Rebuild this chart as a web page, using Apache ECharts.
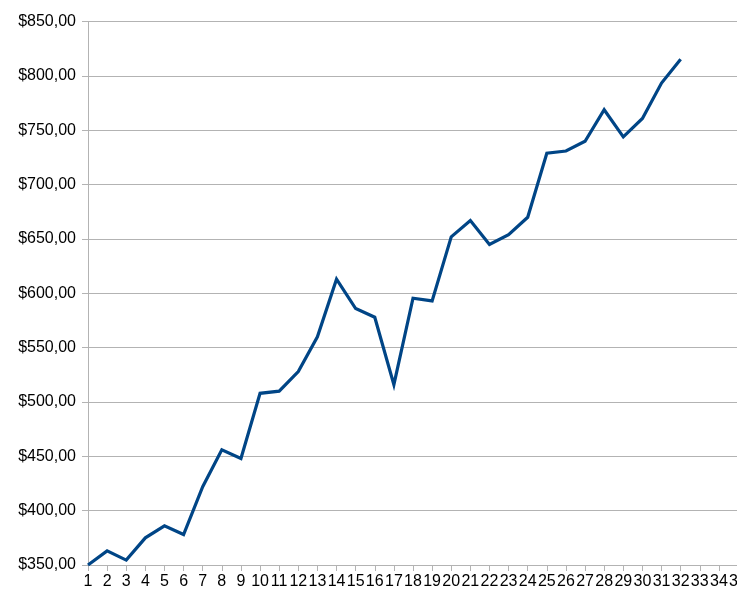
<!DOCTYPE html>
<html>
<head>
<meta charset="utf-8">
<script src="https://cdn.jsdelivr.net/npm/echarts@6/dist/echarts.min.js"></script>
<style>
html,body{margin:0;padding:0;background:#fff;}
#chart{width:737px;height:611px;}
</style>
</head>
<body>
<div id="chart"></div>
<script>
const categories = ['1','2','3','4','5','6','7','8','9','10','11','12','13','14','15','16','17','18','19','20','21','22','23','24','25','26','27','28','29','30','31','32','33','34','35'];
const values = [350, 363, 354.5, 375, 386, 378, 422, 456, 448, 508, 510, 528, 560, 613, 586, 578, 516, 595.5, 593, 652, 667, 645, 654, 670, 729, 731, 740, 769, 744, 761, 793.5, 815.5];
const yTicks = {min: 350, max: 850, step: 50};

const chart = echarts.init(document.getElementById('chart'), null, {renderer: 'canvas'});
chart.setOption({
  animation: false,
  backgroundColor: '#ffffff',
  grid: {left: 88, width: 650, top: 21.7, bottom: 46, containLabel: false, outerBoundsMode: 'none'},
  xAxis: {
    type: 'category',
    data: categories,
    boundaryGap: false,
    axisLine: {lineStyle: {color: '#b3b3b3', width: 1}},
    axisTick: {show: true, alignWithLabel: true, length: 6, lineStyle: {color: '#b3b3b3'}, interval: 0},
    axisLabel: {interval: 0, hideOverlap: false, color: '#000', fontFamily: 'Liberation Sans', fontSize: 16, margin: 9},
    splitLine: {show: false}
  },
  yAxis: {
    type: 'value',
    min: yTicks.min,
    max: yTicks.max,
    interval: yTicks.step,
    axisLine: {show: true, lineStyle: {color: '#b3b3b3', width: 1}},
    axisTick: {show: true, length: 6, lineStyle: {color: '#b3b3b3'}},
    axisLabel: {
      color: '#000', fontFamily: 'Liberation Sans', fontSize: 16, margin: 12,
      formatter: v => '$' + v.toFixed(2).replace('.', ',')
    },
    splitLine: {show: true, lineStyle: {color: '#b3b3b3', width: 1}}
  },
  series: [{
    type: 'line',
    data: values,
    symbol: 'none',
    smooth: false,
    lineStyle: {color: '#004586', width: 3.2, cap: 'butt', join: 'miter'}
  }]
});
</script>
</body>
</html>
